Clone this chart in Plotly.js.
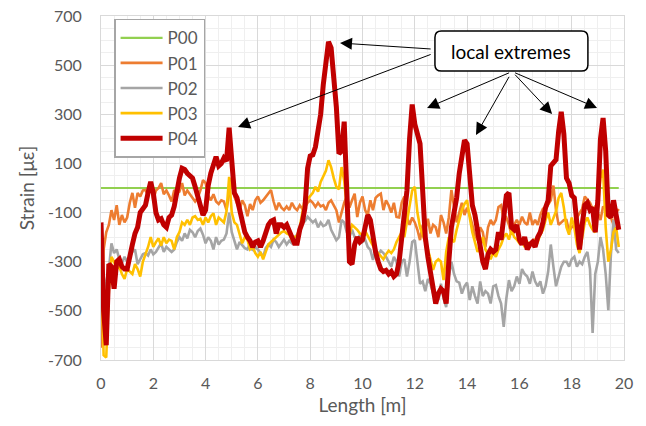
<!DOCTYPE html>
<html>
<head>
<meta charset="utf-8">
<script src="https://cdn.plot.ly/plotly-3.0.1.min.js"></script>
<style>html,body{margin:0;padding:0;background:#fff;}#chart{width:646px;height:426px;}</style>
</head>
<body>
<div id="chart"></div>
<script>
// sample step 0.1 m, from 0.0 to 19.8 m
const step = 0.1;
const seriesNames = ["P00", "P01", "P02", "P03", "P04"];
const seriesColors = ["#92D050", "#ED7D31", "#A5A5A5", "#FFC000", "#C00000"];

const P01 = [
-650,-250,-180,-150,-90,-130,-70,-150,-110,-140,
-120,-60,-20,-80,-20,-35,-10,-8,-30,20,
-50,-10,0,20,-25,-10,-30,-55,-8,-20,
-15,20,-30,-10,-25,-40,-55,-40,-10,32,
20,-30,-50,-25,-55,-65,-50,-55,-90,-20,
40,-35,-60,-90,-50,-70,-115,-65,-90,-50,
-35,-60,-50,-35,-20,-8,-55,-90,-60,-80,
-90,-75,-90,-60,-80,-90,-70,-85,-80,-60,
-50,-60,-77,-60,-75,-70,-90,-60,-50,-70,
-90,-140,-100,-60,-35,-80,-50,-23,-118,-60,
-35,-90,-110,-50,-90,-40,-30,-23,-90,-50,
-70,-100,-60,-118,-120,-60,-35,-118,-150,-120,
-140,-170,-212,-150,-170,-125,-185,-150,-160,-200,
-110,-140,-185,-120,-8,-80,-140,-100,-60,-110,
-80,-110,-150,-190,-212,-160,-180,-240,-160,-130,
-150,-130,-77,-70,-130,-120,-150,-190,-150,-130,
-150,-117,-140,-150,-100,-150,-130,-150,-110,-85,
-85,-70,-50,10,-90,-150,-140,-130,-130,-175,
-160,-150,-120,-100,-85,-35,-50,-60,-85,-75,
-100,-130,-75,-85,-110,-120,-150,-100,-85
];

const P02 = [
-420,-415,-380,-333,-225,-265,-250,-290,-305,-280,
-300,-280,-260,-250,-310,-290,-270,-265,-275,-250,
-270,-260,-245,-225,-260,-240,-250,-260,-250,-220,
-200,-215,-185,-205,-170,-180,-200,-175,-165,-190,
-225,-200,-215,-250,-200,-230,-215,-210,-185,-100,
-180,-220,-250,-220,-235,-245,-250,-225,-255,-240,
-250,-265,-280,-245,-230,-240,-210,-220,-240,-225,
-210,-230,-215,-225,-200,-190,-170,-143,-135,-117,
-130,-140,-130,-160,-140,-155,-150,-130,-170,-190,
-212,-200,-130,-140,-180,-200,-170,-200,-215,-190,
-220,-210,-240,-252,-293,-250,-270,-255,-265,-280,
-300,-320,-280,-300,-360,-300,-290,-360,-300,-220,
-212,-300,-390,-380,-420,-370,-390,-430,-440,-456,
-390,-450,-485,-360,-300,-350,-380,-385,-430,-400,
-385,-456,-400,-440,-470,-380,-440,-420,-430,-470,
-400,-395,-440,-470,-565,-450,-375,-420,-400,-360,
-390,-330,-350,-360,-390,-340,-380,-400,-380,-430,
-400,-340,-230,-320,-400,-360,-320,-300,-300,-320,
-290,-280,-320,-300,-310,-280,-260,-330,-590,-350,
-300,-200,-250,-350,-497,-270,-130,-250,-265
];

const P03 = [
-250,-680,-690,-420,-280,-300,-330,-320,-350,-370,
-330,-340,-350,-310,-330,-360,-300,-270,-240,-200,
-240,-220,-205,-235,-200,-225,-210,-215,-250,-200,
-180,-140,-150,-130,-150,-120,-115,-130,-125,-150,
-120,-140,-115,-103,-150,-120,-130,-140,-95,45,
-100,-140,-150,-185,-225,-200,-210,-250,-240,-265,
-280,-260,-290,-260,-230,-220,-210,-200,-190,-180,
-175,-185,-190,-210,-200,-195,-160,-100,-40,-45,
-30,-20,5,-15,25,50,70,113,85,40,
5,-5,85,30,-80,-190,-150,-160,-170,-185,
-190,-175,-195,-215,-240,-255,-265,-280,-290,-270,
-255,-265,-250,-220,-200,-180,-200,-140,-77,-10,
5,-100,-160,-190,-220,-250,-290,-333,-300,-290,
-300,-375,-260,-200,-210,-220,-170,-130,-90,-65,
-50,-120,-180,-220,-260,-240,-200,-250,-270,-290,
-260,-280,-250,-230,-200,-185,-210,-170,-200,-210,
-225,-215,-240,-220,-230,-215,-210,-220,-190,-170,
-130,-100,-150,-120,-95,-40,-20,-80,-160,-190,
-120,-160,-230,-265,-210,-140,-120,-150,-170,-180,
-80,40,75,-160,-300,-250,-180,-160,-240
];

const P04 = [
-140,-500,-640,-310,-320,-410,-300,-290,-320,-330,
-330,-270,-230,-185,-160,-100,-85,-70,-20,25,
-20,-100,-130,-125,-150,-160,-120,-110,-75,-10,
40,80,75,60,50,40,5,-35,-70,-110,
-90,10,60,100,127,90,100,122,110,245,
110,-20,-40,-90,-150,-180,-200,-215,-240,-220,
-215,-240,-215,-175,-150,-135,-130,-185,-150,-150,
-160,-150,-170,-200,-225,-225,-170,-140,-80,80,
130,135,167,230,300,420,520,595,570,470,
330,140,150,270,-40,-300,-310,-230,-200,-220,
-210,-160,-110,-130,-200,-260,-300,-330,-340,-335,
-350,-340,-360,-350,-300,-200,-80,-10,200,340,
260,210,180,-10,-200,-280,-340,-400,-470,-430,
-410,-420,-470,-300,-160,-100,-40,60,120,195,
180,40,-70,-110,-180,-240,-300,-330,-270,-250,
-260,-250,-180,-210,-120,-30,-20,-160,-170,-150,
-210,-230,-200,-250,-230,-220,-240,-200,-180,-140,
-80,-50,90,100,115,230,310,220,40,20,
-30,-40,-130,-250,-150,-70,-60,-90,-80,-180,
-50,200,285,150,-110,-120,-50,-100,-170
];

const P00 = P04.map(() => 0);
const lengthM = P04.map((_, i) => Math.round(i * step * 10) / 10);

const xTicks = [0, 2, 4, 6, 8, 10, 12, 14, 16, 18, 20];
const yTicks = [-700, -500, -300, -100, 100, 300, 500, 700];

const values = [P00, P01, P02, P03, P04];
const widths = [2.2, 2.6, 2.6, 2.6, 5];

const traces = values.map((v, i) => ({
  x: lengthM, y: v, type: 'scatter', mode: 'lines',
  name: seriesNames[i],
  line: {color: seriesColors[i], width: widths[i]}
}));

// annotation: label box and arrow targets (data coordinates)
const labelText = "local extremes";
const labelPos = [15.68, 557];
const arrowTargets = [
  {tail: [12.72, 565], head: [9.14, 590]},
  {tail: [12.72, 548], head: [5.24, 248]},
  {tail: [15.72, 474], head: [12.47, 326]},
  {tail: [15.72, 474], head: [14.34, 216]},
  {tail: [15.72, 474], head: [17.25, 301]},
  {tail: [15.72, 474], head: [18.97, 326]}
];

const annotations = arrowTargets.map(a => ({
  x: a.head[0], y: a.head[1], xref: 'x', yref: 'y',
  ax: a.tail[0], ay: a.tail[1], axref: 'x', ayref: 'y',
  text: ' ', showarrow: true, arrowhead: 2, arrowsize: 2.4, arrowwidth: 1,
  arrowcolor: '#000'
}));
annotations.push({
  x: labelPos[0], y: labelPos[1], xref: 'x', yref: 'y', text: labelText,
  showarrow: false, font: {family: 'Lato, sans-serif', size: 19, color: '#000'}
});

// rounded box behind the label
const bx0 = 12.77, bx1 = 18.62, by0 = 476, by1 = 639, rx = 0.25, ry = 26;
const boxPath = `M ${bx0+rx},${by1} L ${bx1-rx},${by1} Q ${bx1},${by1} ${bx1},${by1-ry} ` +
  `L ${bx1},${by0+ry} Q ${bx1},${by0} ${bx1-rx},${by0} L ${bx0+rx},${by0} ` +
  `Q ${bx0},${by0} ${bx0},${by0+ry} L ${bx0},${by1-ry} Q ${bx0},${by1} ${bx0+rx},${by1} Z`;

const layout = {
  width: 646, height: 426,
  margin: {l: 101, r: 22, t: 16, b: 66},
  paper_bgcolor: '#fff', plot_bgcolor: '#fff',
  font: {family: 'Lato, sans-serif', color: '#595959'},
  showlegend: true,
  legend: {
    x: 0.025, y: 0.992, xanchor: 'left', yanchor: 'top',
    bgcolor: '#fff', bordercolor: '#a6a6a6', borderwidth: 1.5,
    font: {family: 'Lato, sans-serif', size: 17, color: '#595959'},
    tracegroupgap: 0, itemwidth: 42
  },
  xaxis: {
    range: [0, 20], tickvals: xTicks, ticktext: xTicks.map(String),
    showgrid: true, gridcolor: '#d9d9d9', gridwidth: 1,
    minor: {dtick: 0.5, showgrid: true, gridcolor: '#efefef', gridwidth: 1},
    zeroline: false, showline: true, mirror: true, linecolor: '#d9d9d9', linewidth: 1,
    ticks: '', ticklabelstandoff: 9,
    tickfont: {family: 'Lato, sans-serif', size: 16, color: '#595959'},
    title: {text: 'Length [m]', font: {family: 'Lato, sans-serif', size: 19, color: '#595959'}, standoff: 7}
  },
  yaxis: {
    range: [-700, 700], tickvals: yTicks, ticktext: yTicks.map(String),
    showgrid: true, gridcolor: '#d9d9d9', gridwidth: 1,
    minor: {tick0: -700, dtick: 50, showgrid: true, gridcolor: '#efefef', gridwidth: 1},
    zeroline: false, showline: true, mirror: true, linecolor: '#d9d9d9', linewidth: 1,
    ticks: '', ticklabelstandoff: 15,
    tickfont: {family: 'Lato, sans-serif', size: 16, color: '#595959'},
    title: {text: 'Strain [με]', font: {family: 'Lato, sans-serif', size: 19, color: '#595959'}, standoff: 8}
  },
  shapes: [{
    type: 'path', path: boxPath, xref: 'x', yref: 'y', layer: 'above',
    fillcolor: '#fff', line: {color: '#000', width: 1.5}
  }],
  annotations: annotations
};

Plotly.newPlot('chart', traces, layout, {displayModeBar: false, staticPlot: true});
</script>
</body>
</html>
